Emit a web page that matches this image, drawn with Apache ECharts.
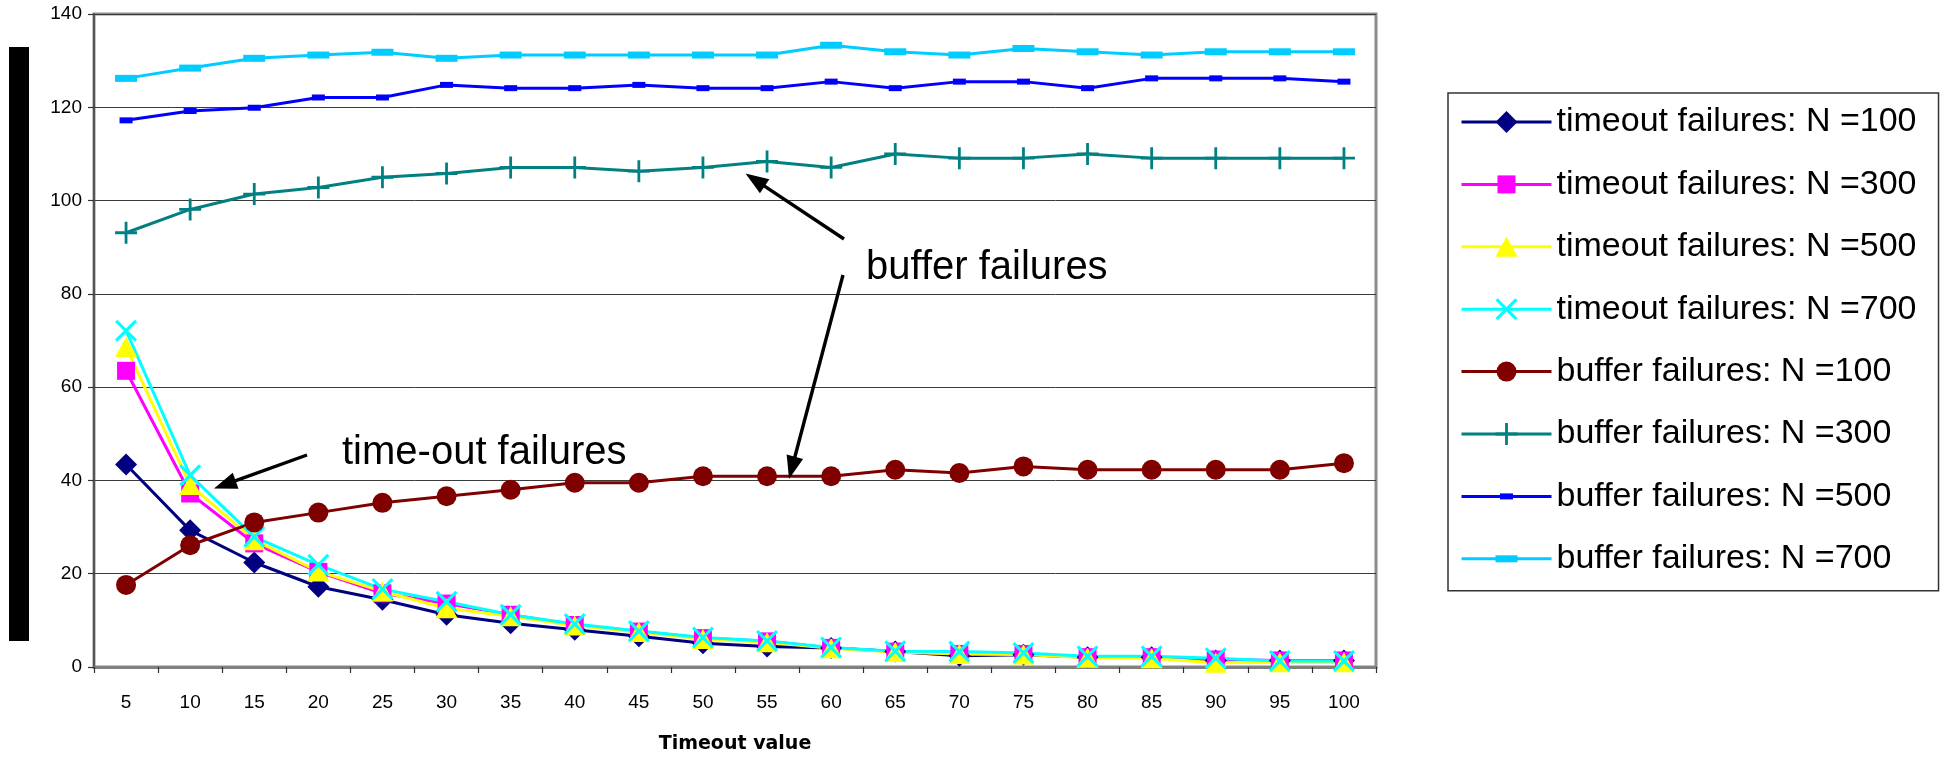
<!DOCTYPE html>
<html>
<head>
<meta charset="utf-8">
<title>Timeout and buffer failures</title>
<script src="https://cdn.jsdelivr.net/npm/echarts@6/dist/echarts.min.js"></script>
<style>
  html, body { margin: 0; padding: 0; background: #ffffff; }
  #chart { width: 1944px; height: 759px; }
</style>
</head>
<body>
<div id="chart"></div>
<script>
// Timeout values on the x axis
const timeoutValues = ['5', '10', '15', '20', '25', '30', '35', '40', '45', '50',
                       '55', '60', '65', '70', '75', '80', '85', '90', '95', '100'];

// Timeout failures per network size N
const timeoutN100 = [43.4, 29.3, 22.4, 17.2, 14.4, 11.2, 9.4, 8.0, 6.6, 5.1,
                     4.4, 4.1, 3.3, 2.4, 2.6, 2.1, 2.1, 1.4, 1.4, 1.4];
const timeoutN300 = [63.5, 37.2, 26.5, 20.4, 15.8, 13.6, 11.2, 9.0, 7.6, 6.2,
                     5.5, 4.1, 3.3, 2.8, 2.8, 2.1, 2.1, 1.6, 1.4, 1.4];
const timeoutN500 = [68.6, 39.0, 27.2, 20.5, 16.2, 12.6, 10.9, 8.9, 7.5, 6.0,
                     5.3, 4.0, 3.2, 2.8, 2.7, 2.0, 1.9, 0.9, 1.0, 1.0];
const timeoutN700 = [72.1, 41.1, 27.9, 21.9, 16.7, 14.0, 11.2, 9.2, 7.7, 6.3,
                     5.6, 4.2, 3.4, 3.3, 3.0, 2.3, 2.3, 1.9, 1.3, 1.3];

// Buffer failures per network size N
const bufferN100 = [17.6, 26.1, 31.0, 33.1, 35.2, 36.6, 38.0, 39.5, 39.5, 40.9,
                    40.9, 40.9, 42.3, 41.6, 43.0, 42.3, 42.3, 42.3, 42.3, 43.7];
const bufferN300 = [93.1, 98.1, 101.4, 102.8, 105.0, 105.8, 107.1, 107.1, 106.3, 107.1,
                    108.4, 107.1, 110.0, 109.1, 109.1, 110.0, 109.1, 109.1, 109.1, 109.1];
const bufferN500 = [117.2, 119.2, 119.9, 122.1, 122.1, 124.8, 124.1, 124.1, 124.8, 124.1,
                    124.1, 125.5, 124.1, 125.5, 125.5, 124.1, 126.2, 126.2, 126.2, 125.5];
const bufferN700 = [126.2, 128.4, 130.5, 131.2, 131.8, 130.5, 131.2, 131.2, 131.2, 131.2,
                    131.2, 133.3, 131.9, 131.2, 132.6, 131.9, 131.2, 131.9, 131.9, 131.9];

// Y axis range
const yMin = 0, yMax = 140, yStep = 20;

const FONT = '"Liberation Sans", Arial, Helvetica, sans-serif';

// Marker shapes, each laid out in a common 24x24 box (the leading moves
// fix the box so every shape keeps its proportions in the legend too)
const BOX = 'M0,0 M24,24 ';
const SYM = {
  diamond:  'path://' + BOX + 'M12,1 L23,12 L12,23 L1,12 Z',
  square:   'path://' + BOX + 'M3,3 L21,3 L21,21 L3,21 Z',
  triangle: 'path://' + BOX + 'M12,2 L23,22 L1,22 Z',
  cross:    'path://' + BOX + 'M1,3.2 L3.2,1 L12,9.8 L20.8,1 L23,3.2 L14.2,12 L23,20.8 L20.8,23 L12,14.2 L3.2,23 L1,20.8 L9.8,12 Z',
  circle:   'path://' + BOX + 'M2,12 A10,10 0 1,1 22,12 A10,10 0 1,1 2,12 Z',
  plus:     'path://' + BOX + 'M10.6,1 L13.4,1 L13.4,10.6 L23,10.6 L23,13.4 L13.4,13.4 L13.4,23 L10.6,23 L10.6,13.4 L1,13.4 L1,10.6 L10.6,10.6 Z',
  dash:     'path://' + BOX + 'M5.5,9 L18.5,9 L18.5,15 L5.5,15 Z',
  bar:      'path://' + BOX + 'M1,8.5 L23,8.5 L23,15.5 L1,15.5 Z'
};

const seriesDefs = [
  { name: 'timeout failures: N =100', data: timeoutN100, color: '#000080', symbol: SYM.diamond },
  { name: 'timeout failures: N =300', data: timeoutN300, color: '#FF00FF', symbol: SYM.square },
  { name: 'timeout failures: N =500', data: timeoutN500, color: '#FFFF00', symbol: SYM.triangle },
  { name: 'timeout failures: N =700', data: timeoutN700, color: '#00FFFF', symbol: SYM.cross },
  { name: 'buffer failures: N =100',  data: bufferN100,  color: '#800000', symbol: SYM.circle },
  { name: 'buffer failures: N =300',  data: bufferN300,  color: '#008080', symbol: SYM.plus },
  { name: 'buffer failures: N =500',  data: bufferN500,  color: '#0000FF', symbol: SYM.dash },
  { name: 'buffer failures: N =700',  data: bufferN700,  color: '#00CCFF', symbol: SYM.bar }
];

// Straight arrow with a solid triangular head at (x2, y2)
function arrow(x1, y1, x2, y2) {
  const dx = x2 - x1, dy = y2 - y1;
  const len = Math.hypot(dx, dy);
  const ux = dx / len, uy = dy / len;
  const headLen = 23, headHalf = 8.5;
  const bx = x2 - ux * headLen, by = y2 - uy * headLen;
  return [
    { type: 'line', silent: true, z: 100,
      shape: { x1: x1, y1: y1, x2: bx + ux * 2, y2: by + uy * 2 },
      style: { stroke: '#000', lineWidth: 3.4 } },
    { type: 'polygon', silent: true, z: 100,
      shape: { points: [[x2, y2], [bx - uy * headHalf, by + ux * headHalf], [bx + uy * headHalf, by - ux * headHalf]] },
      style: { fill: '#000' } }
  ];
}

const chart = echarts.init(document.getElementById('chart'), null, { renderer: 'canvas' });

chart.setOption({
  animation: false,
  backgroundColor: '#ffffff',
  textStyle: { fontFamily: FONT },
  grid: {
    left: 94, right: 568, top: 14, bottom: 90,
    show: true, borderColor: '#8c8c8c', borderWidth: 3, backgroundColor: 'transparent'
  },
  legend: {
    orient: 'vertical',
    left: 1448, top: 93,
    padding: [9, 22, 12, 12],
    itemWidth: 90, itemHeight: 30, itemGap: 22.4,
    borderColor: '#333', borderWidth: 1.5,
    selectedMode: false,
    lineStyle: { width: 3 },
    textStyle: { fontFamily: FONT, fontSize: 34, color: '#000', lineHeight: 40 },
    data: seriesDefs.map(s => s.name)
  },
  xAxis: {
    type: 'category',
    data: timeoutValues,
    boundaryGap: true,
    name: 'Timeout value',
    nameLocation: 'middle',
    nameGap: 68,
    nameTextStyle: { fontFamily: '"DejaVu Sans", sans-serif', fontWeight: 'bold', fontSize: 19, color: '#000' },
    axisLine: { show: true, lineStyle: { color: '#808080', width: 3 } },
    axisTick: { show: true, length: 6, lineStyle: { color: '#333', width: 1.2 } },
    axisLabel: { fontFamily: FONT, fontSize: 19, color: '#000', margin: 26 },
    splitLine: { show: false }
  },
  yAxis: {
    type: 'value',
    min: yMin, max: yMax, interval: yStep,
    axisLine: { show: true, lineStyle: { color: '#555', width: 2 } },
    axisTick: { show: true, length: 6, lineStyle: { color: '#333', width: 1.2 } },
    axisLabel: { fontFamily: FONT, fontSize: 19, color: '#000', margin: 12 },
    splitLine: { show: true, lineStyle: { color: '#3a3a3a', width: 1 } }
  },
  series: seriesDefs.map(s => ({
    name: s.name,
    type: 'line',
    data: s.data,
    symbol: s.symbol,
    symbolSize: 24,
    showAllSymbol: true,
    itemStyle: { color: s.color },
    lineStyle: { color: s.color, width: 3 },
    emphasis: { disabled: true }
  })),
  graphic: [
    // vertical bar beside the value axis
    { type: 'rect', silent: true, shape: { x: 9, y: 47, width: 20, height: 594 }, style: { fill: '#000' } },
    { type: 'text', silent: true, z: 100, x: 342, y: 453,
      style: { text: 'time-out failures', fontFamily: FONT, fontSize: 40, fill: '#000', verticalAlign: 'middle' } },
    { type: 'text', silent: true, z: 100, x: 866, y: 268,
      style: { text: 'buffer failures', fontFamily: FONT, fontSize: 40, fill: '#000', verticalAlign: 'middle' } }
  ]
    .concat(arrow(307, 455, 214, 488.5))
    .concat(arrow(844, 239, 745.5, 173.5))
    .concat(arrow(843, 275, 789, 479))
});
</script>
</body>
</html>
